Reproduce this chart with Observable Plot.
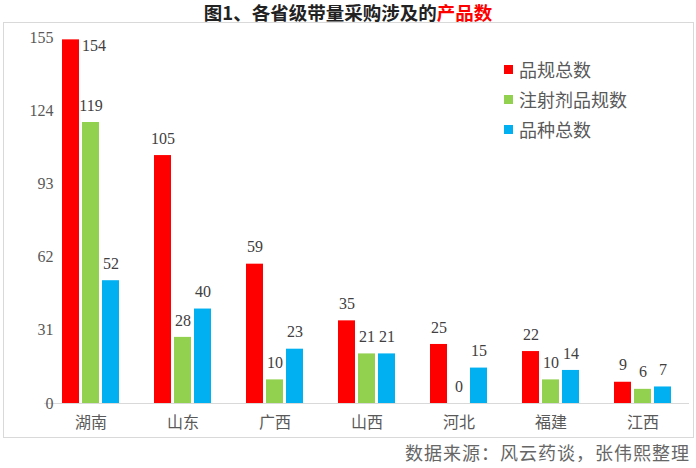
<!DOCTYPE html>
<html>
<head>
<meta charset="utf-8">
<script src="https://cdn.jsdelivr.net/npm/d3@7"></script>
<script src="https://cdn.jsdelivr.net/npm/@observablehq/plot@0.6"></script>
<style>
  html, body { margin: 0; padding: 0; background: #fff; }
  body { width: 696px; height: 468px; position: relative; overflow: hidden; font-family: "Noto Sans CJK SC", sans-serif; }
  #title { position: absolute; left: 0; top: 1px; width: 696px; text-align: center; font-size: 18.5px; font-weight: 700; color: #222; line-height: 22px; }
  #title .hl { color: #ff0000; }
  #box { position: absolute; left: 3px; top: 22px; width: 689px; height: 414px; border: 1px solid #d9d9d9; }
  #legend { position: absolute; left: 500px; top: 31px; font-size: 18px; color: #595959; }
  #legend .row { height: 30px; line-height: 30px; display: flex; align-items: center; }
  #legend .sw { width: 9px; height: 9px; margin-right: 6px; }
  #caption { position: absolute; right: 6px; top: 439px; font-family: "Noto Sans CJK SC", serif; font-size: 18px; color: #666; letter-spacing: 1px; line-height: 26px; }
</style>
</head>
<body>
<div id="title">图1、各省级带量采购涉及的<span class="hl">产品数</span></div>
<div id="box"><div id="chart"></div><div id="legend"></div></div>
<div id="caption">数据来源：风云药谈，张伟熙整理</div>
<script>
const provinces = ["湖南", "山东", "广西", "山西", "河北", "福建", "江西"];
const seriesNames = ["品规总数", "注射剂品规数", "品种总数"];
const seriesColors = ["#ff0000", "#92d050", "#00b0f0"];
const totalSpecs = [154, 105, 59, 35, 25, 22, 9];
const injectionSpecs = [119, 28, 10, 21, 0, 10, 6];
const totalVarieties = [52, 40, 23, 21, 15, 14, 7];
const yTicks = [0, 31, 62, 93, 124, 155];

const seriesValues = [totalSpecs, injectionSpecs, totalVarieties];
const data = [];
provinces.forEach((p, i) => {
  seriesNames.forEach((s, j) => data.push({province: p, series: s, value: seriesValues[j][i]}));
});
const yMax = d3.max(yTicks);
const isTop = d => d.value / yMax > 0.97;

const chart = Plot.plot({
  width: 689,
  height: 414,
  marginLeft: 41,
  marginRight: 4,
  marginTop: 14,
  marginBottom: 34,
  style: {background: "transparent", overflow: "visible"},
  fx: {domain: provinces, paddingInner: 0.38, paddingOuter: 0.19, label: null},
  x: {domain: seriesNames, paddingInner: 0.15, paddingOuter: 0, axis: null},
  y: {domain: [0, yMax], axis: null},
  color: {domain: seriesNames, range: seriesColors},
  marks: [
    Plot.ruleY([0], {stroke: "#d9d9d9", strokeWidth: 1.2, insetLeft: -18, insetRight: -18}),
    Plot.barY(data, {fx: "province", x: "series", y: "value", fill: "series"}),
    Plot.text(data.filter(d => !isTop(d)), {fx: "province", x: "series", y: "value", text: d => String(d.value), dy: -17, fontSize: 16, fill: "#404040", fontFamily: "Liberation Serif, serif"}),
    Plot.text(data.filter(isTop), {fx: "province", x: "series", y: "value", text: d => String(d.value), dx: 11, dy: 6, textAnchor: "start", fontSize: 16, fill: "#404040", fontFamily: "Liberation Serif, serif"}),
    Plot.axisY({ticks: yTicks, tickSize: 0, tickPadding: 9, fontSize: 16, fill: "#595959", fontFamily: "Liberation Serif, serif", label: null}),
    Plot.axisFx({anchor: "bottom", tickSize: 0, tickPadding: 13, fontSize: 16, fill: "#595959", fontFamily: "Noto Sans CJK SC, sans-serif", label: null})
  ]
});
document.getElementById("chart").appendChild(chart);

const legend = document.getElementById("legend");
seriesNames.forEach((s, j) => {
  const row = document.createElement("div");
  row.className = "row";
  const sw = document.createElement("span");
  sw.className = "sw";
  sw.style.background = seriesColors[j];
  const t = document.createElement("span");
  t.textContent = s;
  row.appendChild(sw);
  row.appendChild(t);
  legend.appendChild(row);
});
</script>
</body>
</html>
